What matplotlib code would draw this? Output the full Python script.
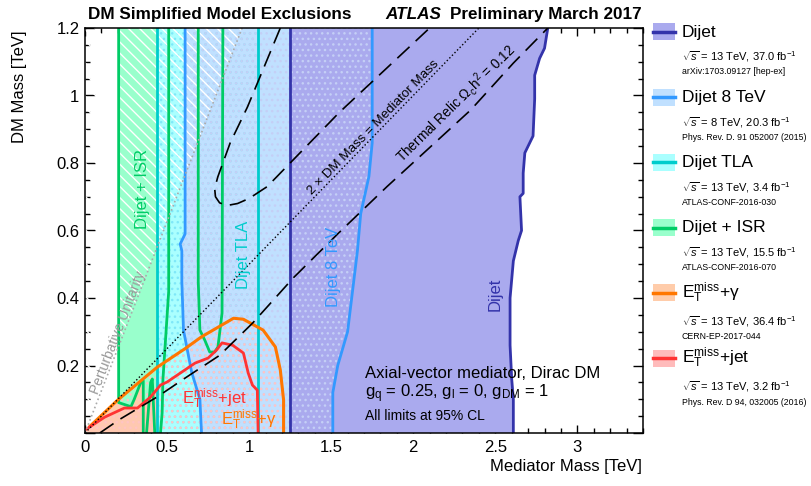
import matplotlib
matplotlib.use('Agg')
import matplotlib.pyplot as plt
import matplotlib.patches as patches
from matplotlib.lines import Line2D
from matplotlib.ticker import MultipleLocator
import numpy as np

plt.rcParams['font.family'] = ['Liberation Sans', 'DejaVu Sans']
plt.rcParams['mathtext.fontset'] = 'custom'
plt.rcParams['mathtext.rm'] = 'Liberation Sans'
plt.rcParams['mathtext.it'] = 'Liberation Sans:italic'
plt.rcParams['mathtext.bf'] = 'Liberation Sans:bold'
plt.rcParams['hatch.linewidth'] = 1.0

# ---- data (TeV) ----
# Dijet 13 TeV: excluded from 1.25 TeV up to the right-hand curve
dijet_low = 1.25
dijet_x = [2.61, 2.61, 2.60, 2.59, 2.59, 2.61, 2.64, 2.66, 2.65, 2.67, 2.67, 2.68, 2.73, 2.74, 2.74, 2.77, 2.80, 2.82]
dijet_y = [0.00, 0.10, 0.16, 0.26, 0.40, 0.51, 0.57, 0.60, 0.70, 0.71, 0.77, 0.83, 0.88, 0.99, 1.06, 1.11, 1.14, 1.20]

# Dijet 8 TeV: left and right edges
d8_left_x = [0.71, 0.70, 0.65, 0.60, 0.59, 0.59, 0.58, 0.61, 0.61]
d8_left_y = [0.00, 0.10, 0.18, 0.305, 0.45, 0.54, 0.56, 0.59, 1.20]
d8_right_x = [1.51, 1.51, 1.54, 1.60, 1.63, 1.66, 1.68, 1.73, 1.75, 1.75]
d8_right_y = [0.00, 0.12, 0.20, 0.30, 0.42, 0.54, 0.65, 0.76, 0.86, 1.20]

# Dijet TLA: vertical band
tla_low = 0.44
tla_high = 1.055

# Dijet + ISR contours
isr_a_x = [0.205, 0.205, 0.28, 0.30, 0.34, 0.355, 0.355]
isr_a_y = [1.20, 0.09, 0.078, 0.10, 0.15, 0.155, 0.0]
isr_b_x = [0.375, 0.40, 0.41, 0.425]
isr_b_y = [0.0, 0.15, 0.16, 0.0]
isr_c_x = [0.46, 0.47, 0.475, 0.51, 0.51]
isr_c_y = [0.0, 0.06, 0.16, 0.42, 1.20]
isr_d_x = [0.69, 0.69, 0.70, 0.73, 0.76, 0.79, 0.81, 0.835, 0.84]
isr_d_y = [1.20, 0.45, 0.305, 0.275, 0.24, 0.24, 0.255, 0.355, 1.20]

# MET + gamma
gam_x = [0.03, 0.20, 0.44, 0.61, 0.71, 0.905, 0.965, 1.085, 1.16, 1.19, 1.21, 1.21]
gam_y = [0.02, 0.098, 0.195, 0.25, 0.285, 0.34, 0.337, 0.305, 0.255, 0.187, 0.098, 0.0]

# MET + jet
jet_x = [0.01, 0.12, 0.24, 0.32, 0.40, 0.46, 0.50, 0.67, 0.75, 0.80, 0.835, 0.90, 0.965, 0.995, 1.02, 1.05, 1.055]
jet_y = [0.012, 0.047, 0.074, 0.074, 0.107, 0.142, 0.151, 0.207, 0.222, 0.245, 0.267, 0.26, 0.237, 0.177, 0.142, 0.127, 0.0]

# thermal relic, lower and upper branch
relic_lo_x = [0.09, 0.21, 0.44, 0.62, 0.82, 1.02, 1.27, 1.54, 1.84, 2.35, 2.61, 2.82]
relic_lo_y = [0.0, 0.04, 0.107, 0.166, 0.23, 0.325, 0.46, 0.59, 0.73, 0.957, 1.096, 1.2]
relic_hi_x = [1.19, 0.99, 0.885, 0.81, 0.79, 0.795, 0.82, 0.865, 0.93, 1.00, 1.11, 1.55, 2.10]
relic_hi_y = [1.2, 0.966, 0.86, 0.76, 0.725, 0.70, 0.682, 0.674, 0.68, 0.695, 0.73, 0.95, 1.2]

# 2 x DM = mediator, perturbative unitarity
diag_x = [0.0, 2.4]
diag_y = [0.0, 1.2]
unit_x = [0.0, 0.9575]
unit_y = [0.0, 1.2]

# legend
leg_names = ['Dijet', 'Dijet 8 TeV', 'Dijet TLA', 'Dijet + ISR',
             r'E$_\mathrm{T}^\mathrm{miss}$+γ', r'E$_\mathrm{T}^\mathrm{miss}$+jet']
leg_lumi = [r'$\sqrt{s}$ = 13 TeV, 37.0 fb$^{-1}$', r'$\sqrt{s}$ = 8 TeV, 20.3 fb$^{-1}$',
            r'$\sqrt{s}$ = 13 TeV, 3.4 fb$^{-1}$', r'$\sqrt{s}$ = 13 TeV, 15.5 fb$^{-1}$',
            r'$\sqrt{s}$ = 13 TeV, 36.4 fb$^{-1}$', r'$\sqrt{s}$ = 13 TeV, 3.2 fb$^{-1}$']
leg_ref = ['arXiv:1703.09127 [hep-ex]', 'Phys. Rev. D. 91 052007 (2015)', 'ATLAS-CONF-2016-030',
           'ATLAS-CONF-2016-070', 'CERN-EP-2017-044', 'Phys. Rev. D 94, 032005 (2016)']

c_dijet, f_dijet = '#3333aa', '#aaaaee'
c_d8, f_d8 = '#3399ff', '#c0e0ff'
c_tla, f_tla = '#00cccc', '#aaffff'
c_isr, f_isr = '#00cc66', '#99ffcc'
c_gam, f_gam = '#ff7700', '#ffccaa'
c_jet, f_jet = '#ff3333', '#ffbbbb'
leg_line = [c_dijet, c_d8, c_tla, c_isr, c_gam, c_jet]
leg_fill = [f_dijet, f_d8, f_tla, f_isr, f_gam, f_jet]

W, H = 811, 486
fig = plt.figure(figsize=(W / 100, H / 100), dpi=100)
ax = fig.add_axes([85 / W, 53 / H, 558 / W, 405 / H])
ax.set_xlim(0, 3.4)
ax.set_ylim(0, 1.2)


def poly(xs, ys, z, **kw):
    ax.add_patch(patches.Polygon(np.column_stack([xs, ys]), closed=True, zorder=z, **kw))


# filled regions
gam_px = gam_x + [gam_x[0]]
gam_py = gam_y + [0.0]
jet_px = jet_x + [jet_x[0]]
jet_py = jet_y + [0.0]
poly(gam_px, gam_py, 1, facecolor=f_gam, edgecolor='none')
poly(isr_a_x + isr_c_x, isr_a_y + isr_c_y, 2, facecolor=f_isr, edgecolor='none')
poly(isr_d_x, isr_d_y, 2, facecolor=f_isr, edgecolor='none')
poly(jet_px, jet_py, 3, facecolor='#ffc8b0', edgecolor='none')
tla_px = [tla_low, tla_low, tla_high, tla_high]
tla_py = [0, 1.2, 1.2, 0]
poly(tla_px, tla_py, 4, facecolor=f_tla, edgecolor='none')
d8_px = d8_left_x + d8_right_x[::-1]
d8_py = d8_left_y + d8_right_y[::-1]
poly(d8_px, d8_py, 5, facecolor=f_d8, edgecolor='none')
poly(tla_px, tla_py, 6, facecolor='none', edgecolor='#7fe8f8', hatch='...', lw=0)
poly([dijet_low, dijet_low] + dijet_x[::-1], [0, 1.2] + dijet_y[::-1], 7,
     facecolor=f_dijet, edgecolor='none')
poly(d8_px, d8_py, 8, facecolor='none', edgecolor='#c4cff6', hatch='...', lw=0)
poly(gam_px, gam_py, 9, facecolor='none', edgecolor='#ffc4c4', hatch='...', lw=0)
poly([0, 0, unit_x[1]], [0, 1.2, 1.2], 10, facecolor='none', edgecolor='white',
     hatch='\\\\\\', lw=0)

# contour lines
lw = 2.0
ax.plot(dijet_x, dijet_y, color=c_dijet, lw=lw, zorder=11)
ax.plot([dijet_low, dijet_low], [0, 1.2], color=c_dijet, lw=lw, zorder=11)
ax.plot(d8_left_x, d8_left_y, color=c_d8, lw=lw, zorder=11)
ax.plot(d8_right_x, d8_right_y, color=c_d8, lw=lw, zorder=11)
for xv in (tla_low, tla_high):
    ax.plot([xv, xv], [0, 1.2], color=c_tla, lw=lw, zorder=11)
for xs, ys in ((isr_a_x, isr_a_y), (isr_b_x, isr_b_y), (isr_c_x, isr_c_y), (isr_d_x, isr_d_y)):
    ax.plot(xs, ys, color=c_isr, lw=lw, zorder=11)
ax.plot(gam_x, gam_y, color=c_gam, lw=2.2, zorder=12)
ax.plot(jet_x, jet_y, color=c_jet, lw=lw, zorder=12)

# theory lines
ax.plot(relic_lo_x, relic_lo_y, color='black', lw=1.2, dashes=(10, 5), zorder=13)
ax.plot(relic_hi_x, relic_hi_y, color='black', lw=1.2, dashes=(10, 5), zorder=13)
ax.plot(diag_x, diag_y, color='black', lw=1.0, ls=':', zorder=13)
ax.plot(unit_x, unit_y, color='#aaaaaa', lw=1.2, ls=':', zorder=13)

# labels inside the plot
ax.text(0.348, 0.723, 'Dijet + ISR', color=c_isr, rotation=90, size=12, ha='center', va='center', zorder=14)
ax.text(0.963, 0.527, 'Dijet TLA', color=c_tla, rotation=90, size=12, ha='center', va='center', zorder=14)
ax.text(1.512, 0.492, 'Dijet 8 TeV', color=c_d8, rotation=90, size=12, ha='center', va='center', zorder=14)
ax.text(2.50, 0.412, 'Dijet', color=c_dijet, rotation=90, size=12, ha='center', va='center', zorder=14)
ax.text(0.79, 0.102, r'E$_\mathrm{T}^\mathrm{miss}$+jet', color=c_jet, size=12, ha='center', va='center', zorder=14)
ax.text(1.0, 0.040, r'E$_\mathrm{T}^\mathrm{miss}$+γ', color=c_gam, size=12, ha='center', va='center', zorder=14)
ax.text(0.204, 0.296, 'Perturbative Unitarity', color='#999999', rotation=68.8, size=10,
        ha='center', va='center', rotation_mode='anchor', zorder=14)
ax.text(1.76, 0.904, '2 × DM Mass = Mediator Mass', rotation=45.8, size=9.6,
        ha='center', va='center', rotation_mode='anchor', zorder=14)
ax.text(2.256, 0.978, r'Thermal Relic $\Omega_\mathrm{c}\mathrm{h}^2$ = 0.12', rotation=44.5, size=9.8,
        ha='center', va='center', rotation_mode='anchor', zorder=14)
ax.text(1.707, 0.163, 'Axial-vector mediator, Dirac DM', size=12, va='baseline', zorder=14)
ax.text(1.707, 0.107, r'g$_\mathrm{q}$ = 0.25, g$_\mathrm{l}$ = 0, g$_\mathrm{DM}$ = 1', size=12,
        va='baseline', zorder=14)
ax.text(1.707, 0.039, 'All limits at 95% CL', size=10, va='baseline', zorder=14)

# axes styling
ax.xaxis.set_minor_locator(MultipleLocator(0.1))
ax.yaxis.set_minor_locator(MultipleLocator(0.05))
ax.set_xticks([0, 0.5, 1, 1.5, 2, 2.5, 3])
ax.set_xticklabels(['0', '0.5', '1', '1.5', '2', '2.5', '3'])
ax.set_yticks([0, 0.2, 0.4, 0.6, 0.8, 1.0, 1.2])
ax.set_yticklabels(['', '0.2', '0.4', '0.6', '0.8', '1', '1.2'])
ax.tick_params(axis='both', which='both', direction='in', top=True, right=True, labelsize=12, width=1)
ax.tick_params(axis='x', which='major', length=6, pad=5)
ax.tick_params(axis='x', which='minor', length=3.5)
ax.tick_params(axis='y', which='major', length=7.5, pad=4)
ax.tick_params(axis='y', which='minor', length=3.8)
for s in ax.spines.values():
    s.set_linewidth(1.1)
    s.set_zorder(20)

fig.text(642 / W, 1 - 466 / H, 'Mediator Mass [TeV]', size=12, ha='right', va='center')
fig.text(20 / W, 1 - 30 / H, 'DM Mass [TeV]', size=12, rotation=90, ha='center', va='top')

# title
fig.text(88 / W, 1 - 19 / H, 'DM Simplified Model Exclusions', size=12.3, weight='bold', va='baseline')
fig.text(385 / W, 1 - 19 / H, 'ATLAS', size=12.3, weight='bold', style='italic', va='baseline')
fig.text(642 / W, 1 - 19 / H, 'Preliminary March 2017', size=12.3, weight='bold', va='baseline', ha='right')

# legend (drawn by hand, right of the axes)
for i in range(6):
    yc = 32 + 65.2 * i
    off = 25 if i < 4 else 29
    fig.add_artist(patches.Rectangle((653 / W, 1 - (yc + 8.5) / H), 22 / W, 17 / H,
                                     transform=fig.transFigure, facecolor=leg_fill[i], edgecolor='none'))
    fig.add_artist(Line2D([653 / W, 675 / W], [1 - yc / H, 1 - yc / H], transform=fig.transFigure,
                          color=leg_line[i], lw=2.5))
    fig.text(682 / W, 1 - yc / H, leg_names[i], size=12.5, va='center')
    fig.text(682 / W, 1 - (yc + off) / H, leg_lumi[i], size=8, va='center')
    fig.text(682 / W, 1 - (yc + off + 15) / H, leg_ref[i], size=6.3, va='center')

fig.savefig('out.png', dpi=100)
